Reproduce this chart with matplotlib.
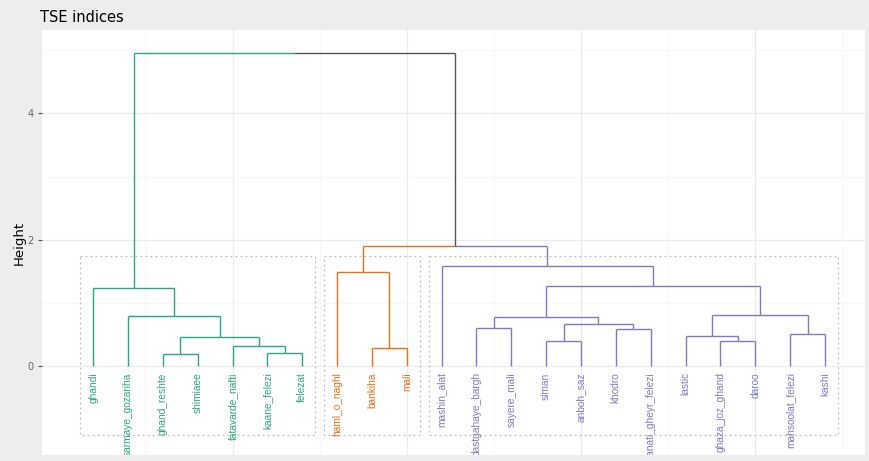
import matplotlib
matplotlib.use("Agg")
import matplotlib.pyplot as plt

# dendrogram of TSE indices (leaf order as drawn)
labels = ["ghandi", "sarmaye_gozariha", "ghand_reshte", "shimiaee", "fatavarde_nafti",
          "kaane_felezi", "felezat", "haml_o_naghl", "bankiha", "mali", "mashin_alat",
          "dastgahaye_bargh", "sayere_mali", "siman", "anboh_saz", "khodro",
          "sanati_gheyr_felezi", "lastic", "ghaza_joz_ghand", "daroo",
          "mahsoolat_felezi", "kashi"]

# merges: node ids < 22 are leaves, node 22+i is merge i
merge_pairs = [(2, 3), (5, 6), (8, 9), (4, 23), (13, 14), (18, 19), (22, 25),
               (17, 27), (20, 21), (15, 16), (11, 12), (26, 31), (32, 33),
               (1, 28), (29, 30), (0, 35), (34, 36), (7, 24), (10, 38),
               (39, 40), (37, 41)]
merge_heights = [0.19, 0.20, 0.29, 0.32, 0.40, 0.40, 0.46, 0.47, 0.51, 0.58, 0.60,
                 0.66, 0.77, 0.79, 0.80, 1.23, 1.27, 1.49, 1.59, 1.90, 4.95]

cluster_roots = [37, 39, 40]
cluster_colors = ["#2BA57F", "#E86F1C", "#7F7AC0"]
root_color = "#555555"

n = len(labels)
xpos = {i: i + 1 for i in range(n)}
ypos = {i: 0.0 for i in range(n)}
children = {}
for k, ((a, b), h) in enumerate(zip(merge_pairs, merge_heights)):
    node = n + k
    children[node] = (a, b)
    xpos[node] = (xpos[a] + xpos[b]) / 2
    ypos[node] = h


def leaves_of(node):
    if node < n:
        return [node]
    a, b = children[node]
    return leaves_of(a) + leaves_of(b)


def descendants(node):
    out = [node]
    if node >= n:
        for c in children[node]:
            out += descendants(c)
    return out


color_of = {}
for root, col in zip(cluster_roots, cluster_colors):
    for d in descendants(root):
        color_of[d] = col

fig = plt.figure(figsize=(8.7, 4.61), dpi=100, facecolor="#EDEDED")
ax = fig.add_axes([42 / 870, 6 / 461, 823 / 870, 425 / 461])
ax.set_facecolor("white")

for node, (a, b) in children.items():
    for c in (a, b):
        col = color_of.get(c, root_color)
        ax.plot([xpos[node], xpos[c]], [ypos[node], ypos[node]], color=col, lw=1.0,
                solid_capstyle="butt", zorder=3)
        ax.plot([xpos[c], xpos[c]], [ypos[node], ypos[c]], color=col, lw=1.0,
                solid_capstyle="butt", zorder=3)

for i, lab in enumerate(labels):
    ax.text(xpos[i], -0.1, lab, rotation=90, ha="center", va="top", fontsize=7.3,
            color=color_of[i], family="Liberation Sans", clip_on=True, zorder=4)

# cluster rectangles at the k=3 cut
cut = (merge_heights[-2] + merge_heights[-3]) / 2
for root in cluster_roots:
    lv = [xpos[i] for i in leaves_of(root)]
    x0, x1 = min(lv) - 0.37, max(lv) + 0.37
    ax.plot([x0, x1, x1, x0, x0], [cut, cut, -1.1, -1.1, cut], color="#BBBBBB",
            lw=0.9, ls=(0, (1.5, 2.5)), zorder=2)

ax.set_xlim(-0.47, 23.15)
ax.set_ylim(-1.41, 5.32)
ax.set_yticks([0, 2, 4])
ax.set_yticks([1, 3, 5], minor=True)
ax.set_xticks([5, 10, 15, 20])
ax.set_xticks([2.5, 7.5, 12.5, 17.5, 22.5], minor=True)
ax.grid(True, which="major", color="#EBEBEB", lw=0.9, zorder=0)
ax.grid(True, which="minor", color="#F4F4F4", lw=0.5, zorder=0)
ax.set_axisbelow(True)
ax.tick_params(axis="x", which="both", bottom=False, labelbottom=False)
ax.tick_params(axis="y", which="major", length=3, color="#555555",
               labelsize=7, labelcolor="#666666", pad=3)
ax.tick_params(axis="y", which="minor", length=0)
for s in ax.spines.values():
    s.set_visible(False)

ax.set_ylabel("Height", fontsize=9.5, color="black", labelpad=1)
fig.text(40 / 870, 1 - 18 / 461, "TSE indices", fontsize=10.5, ha="left", va="center",
         color="black")

fig.savefig("out.png", dpi=100, facecolor=fig.get_facecolor())
